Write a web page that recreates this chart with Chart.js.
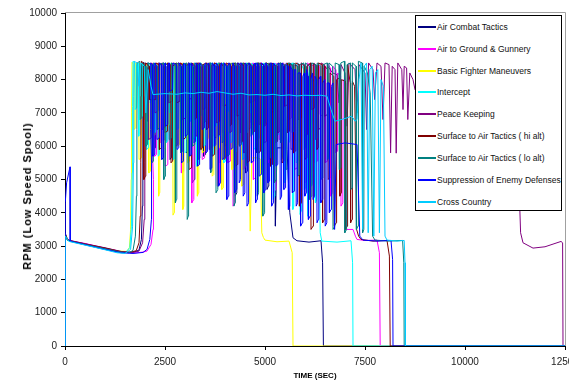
<!DOCTYPE html>
<html><head><meta charset="utf-8">
<script src="https://cdn.jsdelivr.net/npm/chart.js@4.4.0/dist/chart.umd.min.js"></script>
<style>
html,body{margin:0;padding:0;background:#fff;overflow:hidden;}
#wrap{position:relative;width:569px;height:381px;}
#legend{position:absolute;left:415px;top:15px;width:145px;height:194px;border:1px solid #000;background:#fff;font-family:'Liberation Sans',Arial,sans-serif;font-size:8.5px;color:#111;}
.item{position:absolute;left:0;width:145px;height:12px;}
.item .sw{position:absolute;left:2px;top:5px;width:18px;height:2px;}
.item .tx{position:absolute;left:21px;top:0;line-height:12px;white-space:nowrap;}
#ytitle{position:absolute;left:27px;top:196px;transform:translate(-50%,-50%) rotate(-90deg);white-space:nowrap;font-family:'Liberation Sans',Arial,sans-serif;font-weight:bold;font-size:11px;letter-spacing:1px;color:#000;}
</style></head><body>
<div id="wrap"><canvas id="c" width="569" height="381"></canvas><div id="legend"></div><div id="ytitle">RPM (Low Speed Spool)</div></div>
<script>
const seriesNames = ['Air Combat Tactics','Air to Ground & Gunnery','Basic Fighter Maneuvers','Intercept','Peace Keeping','Surface to Air Tactics ( hi alt)','Surface to Air Tactics ( lo alt)','Suppression of Enemy Defenses','Cross Country'];
const seriesColors = ['#000080','#FF00FF','#FFFF00','#00FFFF','#800080','#800000','#008080','#0000FF','#00CCFF'];
const xTicks = [0,2500,5000,7500,10000,12500];
const yTicks = [0,1000,2000,3000,4000,5000,6000,7000,8000,9000,10000];

// [time (s), RPM]
const airCombatTactics = [[0,0],[8,3380],[60,3200],[130,3150],[500,3070],[1000,2920],[1400,2820],[1700,2810],[1850,2880],[1910,3200],[1935,4200],[1945,6000],[1948,7600],[1955,8520],
[2000,8480],[2010,6800],[2055,6750],[2065,8500],[2190,8450],[2200,5900],[2255,5950],[2265,8500],[2345,8400],[2355,7200],[2370,7250],[2380,8450],
[2470,8500],[2480,6200],[2535,6150],[2545,8400],[2615,8450],[2625,5600],[2650,5650],[2660,8500],[2760,8300],[2770,6500],[2825,6550],[2835,8500],
[2905,8450],[2915,7600],[2960,7650],[2970,8500],[3035,8400],[3045,5800],[3075,5850],[3085,8500],[3170,8450],[3180,4900],[3235,5000],[3245,8450],
[3325,8500],[3335,6100],[3360,6050],[3370,8400],[3455,8450],[3465,5700],[3515,5750],[3525,8500],[3590,8300],[3600,7000],[3620,7050],[3630,8500],
[3710,8450],[3720,6300],[3785,6250],[3795,8500],[3860,8400],[3870,5500],[3895,5550],[3905,8500],[3985,8450],[3995,6000],[4045,6050],[4055,8350],
[4120,8500],[4130,7400],[4165,7350],[4175,8500],[4240,8400],[4250,4500],[4295,4600],[4305,8500],[4385,8450],[4395,6400],[4415,6450],[4425,8500],
[4505,8300],[4515,5200],[4565,5250],[4575,8500],[4640,8450],[4650,6700],[4695,6650],[4705,8500],[4775,8400],[4785,5800],[4815,5850],[4825,8500],
[4905,8450],[4915,6200],[4955,6250],[4965,8450],[5040,8500],[5050,4700],[5085,4800],[5095,8500],[5160,8400],[5170,7100],[5195,7150],[5205,8300],
[5250,8200],[5260,3600],[5300,5950],[5450,5950],[5480,8200],[5550,5900],[5620,4000],[5700,3250],[5800,3160],[6100,3120],[6400,3160],[6440,2500],[6460,0],[12500,0]];

const airToGround = [[0,0],[8,3360],[60,3190],[130,3160],[500,3080],[1000,2940],[1400,2840],[1700,2790],[1950,2820],[2050,2850],[2150,3050],[2200,3500],[2212,4300],[2210,5000],[2190,5700],[2170,6500],[2168,7500],[2172,8500],
[2230,8450],[2240,5700],[2290,5750],[2300,8500],[2375,8400],[2385,6100],[2420,6150],[2430,8500],[2500,8450],[2510,5400],[2570,5450],[2580,8500],
[2650,8350],[2660,7300],[2685,7250],[2695,8500],[2770,8450],[2780,6600],[2825,6650],[2835,8400],[2900,8500],[2910,5200],[2965,5250],[2975,8450],
[3030,8400],[3040,6200],[3070,6250],[3080,8500],[3160,8450],[3170,4300],[3220,4400],[3230,8500],[3290,8400],[3300,6000],[3340,6050],[3350,8500],
[3420,8450],[3430,5600],[3490,5650],[3500,8350],[3545,8500],[3555,6700],[3585,6650],[3595,8500],[3665,8400],[3675,5900],[3725,5950],[3735,8500],
[3800,8450],[3810,4800],[3855,4850],[3865,8500],[3935,8400],[3945,6400],[3980,6450],[3990,8500],[4060,8450],[4070,5500],[4125,5550],[4135,8400],
[4190,8500],[4200,4200],[4240,4300],[4250,8500],[4310,8450],[4320,6100],[4370,6150],[4380,8500],[4445,8400],[4455,5300],[4485,5350],[4495,8500],
[4575,8450],[4585,6500],[4645,6550],[4655,8450],[4700,8500],[4710,5000],[4750,5050],[4760,8500],[4830,8400],[4840,5800],[4885,5850],[4895,8500],
[4960,8450],[4970,6900],[5000,6950],[5010,8500],[5085,8400],[5095,5500],[5150,5550],[5160,8500],[5210,8450],[5220,4600],[5260,4700],[5270,8500],
[5345,8400],[5355,6200],[5405,6250],[5415,8450],[5470,8500],[5480,5700],[5515,5750],[5525,8500],[5600,8450],[5610,6800],[5655,6850],[5665,8500],
[5730,8400],[5740,5300],[5800,5350],[5810,8500],[5855,8450],[5865,6000],[5895,6050],[5905,8500],[5985,8400],[5995,4900],[6045,4950],[6055,8500],
[6110,8450],[6120,6600],[6160,6650],[6170,8400],[6240,8500],[6250,5500],[6305,5550],[6315,8450],[6370,8400],[6380,6950],[6440,6900],[6450,8300],
[6500,8400],[6510,5500],[6550,5550],[6560,8500],[6630,8350],[6640,4500],[6690,4600],[6700,8400],[6760,8300],[6770,5800],[6805,5850],[6815,8200],
[6890,8100],[6900,4200],[6945,4300],[6955,8000],[7020,7900],[7030,3500],[7200,3500],[7260,3300],[7300,3200],[7500,3170],[7800,3180],[7860,2800],[7880,0],[12500,0]];

const basicFighter = [[0,0],[8,3350],[60,3180],[130,3150],[500,3060],[1000,2930],[1350,2850],[1550,2840],[1610,2960],[1640,3500],[1655,5000],[1665,7000],[1675,8520],
[1720,8450],[1730,6500],[1760,6550],[1770,8500],[1840,8400],[1850,5600],[1900,5650],[1910,8500],[1965,8450],[1975,6800],[2000,6850],[2010,8500],
[2085,8350],[2095,5200],[2140,5250],[2150,8500],[2200,8450],[2210,6300],[2245,6350],[2255,8400],[2330,8500],[2340,4500],[2360,4600],[2370,8500],
[2450,8400],[2460,5900],[2500,5950],[2510,8500],[2570,8450],[2580,6600],[2610,6650],[2620,8500],[2690,8400],[2700,3930],[2725,4000],[2735,8500],
[2810,8450],[2820,6000],[2865,6050],[2875,8400],[2935,8500],[2945,4100],[2970,4200],[2980,8500],[3055,8350],[3065,5500],[3115,5550],[3125,8500],
[3180,8450],[3190,6600],[3220,6650],[3230,8500],[3300,8400],[3310,4500],[3335,4600],[3345,8500],[3425,8450],[3435,5800],[3480,5850],[3490,8400],
[3545,8500],[3555,6200],[3590,6250],[3600,8500],[3670,8400],[3680,5100],[3720,5150],[3730,8500],[3790,8450],[3800,5900],[3850,5950],[3860,8500],
[3910,8400],[3920,4700],[3950,4750],[3960,8500],[4035,8450],[4045,6400],[4080,6450],[4090,8400],[4160,8500],[4170,5300],[4215,5350],[4225,8500],
[4285,8450],[4295,6000],[4325,6050],[4335,8500],[4410,8400],[4420,4800],[4460,4850],[4470,8500],[4540,8350],[4560,8300],[4630,3450],[4670,5650],
[4800,5650],[4880,5620],[4920,3400],[4960,3260],[5000,3180],[5300,3130],[5600,3150],[5680,2800],[5700,0],[12500,0]];

const intercept = [[0,0],[8,3340],[60,3170],[130,3140],[500,3040],[1000,2900],[1300,2820],[1500,2800],[1620,2950],[1660,3600],[1680,5200],[1690,7200],[1700,8550],
[1745,8500],[1755,7100],[1780,7150],[1790,8450],[1830,8500],[1840,6300],[1870,6350],[1880,8400],[1935,8450],[1945,6900],[1965,6950],[1975,8500],
[2030,8400],[2040,5900],[2075,5950],[2085,8500],[2120,8450],[2130,7300],[2150,7350],[2160,8350],[2230,8500],[2240,6400],[2270,6450],[2280,8450],
[2320,8400],[2330,5700],[2365,5750],[2375,8500],[2415,8450],[2425,6800],[2445,6850],[2455,8500],[2520,8400],[2530,6100],[2560,6150],[2570,8450],
[2610,8500],[2620,7000],[2645,7050],[2655,8400],[2700,8450],[2710,5600],[2745,5650],[2755,8500],[2805,8400],[2815,6500],[2840,6550],[2850,8500],
[2895,8450],[2905,7200],[2925,7250],[2935,8400],[2990,8500],[3000,5800],[3035,5850],[3045,8450],[3095,8400],[3105,6700],[3130,6750],[3140,8500],
[3185,8450],[3195,6200],[3225,6250],[3235,8500],[3280,8400],[3290,5400],[3325,5450],[3335,8450],[3385,8500],[3395,6900],[3415,6950],[3425,8400],
[3470,8450],[3480,6000],[3510,6050],[3520,8500],[3565,8400],[3575,7100],[3600,7150],[3610,8450],[3670,8500],[3680,5700],[3715,5750],[3725,8400],
[3760,8450],[3770,6600],[3795,6650],[3805,8500],[3855,8400],[3865,6300],[3890,6350],[3900,8450],[3960,8500],[3970,5500],[4005,5550],[4015,8400],
[4045,8450],[4055,7000],[4075,7050],[4085,8500],[4140,8400],[4150,6100],[4180,6150],[4190,8450],[4245,8500],[4255,5800],[4285,5850],[4295,8400],
[4335,8450],[4345,6800],[4365,6850],[4375,8500],[4430,8400],[4440,5600],[4475,5650],[4485,8450],[4535,8500],[4545,6400],[4570,6450],[4580,8400],
[4620,8450],[4630,7000],[4650,7050],[4660,8500],[4715,8400],[4725,5900],[4755,5950],[4765,8450],[4820,8500],[4830,6200],[4855,6250],[4865,8400],
[4910,8450],[4920,5300],[4955,5350],[4965,8500],[5005,8400],[5015,6700],[5035,6750],[5045,8450],[5110,8500],[5120,5800],[5150,5850],[5160,8400],
[5195,8450],[5205,4400],[5235,4500],[5245,8500],[5290,8400],[5300,6300],[5325,6350],[5335,8450],[5395,8500],[5405,5600],[5440,5650],[5450,8400],
[5485,8450],[5495,4900],[5520,5000],[5530,8500],[5580,8400],[5590,6100],[5620,6150],[5630,8450],[5685,8500],[5695,4100],[5720,4200],[5730,8400],
[5770,8450],[5780,5500],[5810,5550],[5820,8500],[5865,8400],[5875,3950],[5900,4050],[5910,8450],[5970,8300],[5980,4700],[6010,4750],[6020,8400],
[6055,8300],[6065,3900],[6090,4000],[6100,8200],[6150,8300],[6160,4800],[6190,4850],[6200,8000],[6250,7900],[6260,4300],[6290,4400],[6300,7800],
[6330,7800],[6380,3400],[6420,3150],[6800,3120],[7150,3160],[7190,2500],[7200,0],[12500,0]];

const peaceKeeping = [[0,0],[8,3370],[60,3200],[130,3170],[500,3070],[1000,2950],[1400,2840],[1700,2810],[1850,2850],[1940,3100],[1980,3800],[1995,5500],[2003,7500],[2010,8500],
[2080,8450],[2090,6200],[2150,6250],[2160,8500],[2240,8400],[2250,7000],[2320,7050],[2330,8500],[2420,8450],[2430,6500],[2480,6550],[2490,8400],
[2585,8500],[2595,7300],[2675,7350],[2685,8450],[2760,8400],[2770,6000],[2820,6050],[2830,8500],[2930,8450],[2940,6800],[3010,6850],[3020,8400],
[3090,8500],[3100,7400],[3180,7450],[3190,8450],[3270,8400],[3280,6300],[3330,6350],[3340,8500],[3440,8450],[3450,7100],[3520,7150],[3530,8400],
[3600,8500],[3610,5900],[3660,5950],[3670,8450],[3780,8400],[3790,6700],[3860,6750],[3870,8500],[3950,8450],[3960,7200],[4040,7250],[4050,8400],
[4110,8500],[4120,6400],[4170,6450],[4180,8450],[4290,8400],[4300,6900],[4370,6950],[4380,8500],[4460,8450],[4470,5800],[4520,5850],[4530,8400],
[4620,8500],[4630,7300],[4710,7350],[4720,8450],[4800,8400],[4810,6600],[4860,6650],[4870,8500],[4970,8450],[4980,6100],[5040,6150],[5050,8400],
[5130,8500],[5140,7000],[5220,7050],[5230,8450],[5310,8400],[5320,6400],[5370,6450],[5380,8500],[5480,8450],[5490,7200],[5570,7250],[5580,8400],
[5640,8500],[5650,5900],[5700,5950],[5710,8450],[5820,8400],[5830,6800],[5900,6850],[5910,8500],[5990,8450],[6000,6300],[6050,6350],[6060,8400],
[6150,8500],[6160,7100],[6240,7150],[6250,8450],[6330,8400],[6340,6500],[6390,6550],[6400,8500],[6480,8450],[6490,6900],[6560,6950],[6570,8400],
[6690,8200],[6800,8150],[6850,7300],[6900,8450],[7000,8200],[7050,6600],[7100,8500],[7250,8300],[7300,7000],[7350,8450],
[7500,8200],[7540,6500],[7590,8500],[7700,8300],[7740,7400],[7800,8500],[7900,8400],[7950,6800],[8000,8500],[8100,8450],[8140,5800],[8180,8400],
[8250,8300],[8280,5790],[8320,8500],[8420,8300],[8450,7100],[8480,8400],[8540,8350],[8570,6800],[8620,8200],[8700,8000],[8750,7700],
[9000,8200],[9500,7600],[10000,8100],[10500,7800],[11000,8000],[11250,7500],[11320,6000],[11360,4500],[11390,3400],[11450,3100],[11700,2940],[12000,2980],[12300,3100],[12400,3140],[12440,3100],[12450,0],[12500,0]];

const surfaceHi = [[0,0],[8,3360],[60,3190],[130,3160],[500,3060],[1000,2940],[1400,2830],[1600,2810],[1780,2860],[1850,3100],[1880,3900],[1895,5500],[1900,7500],[1910,8550],
[1960,8500],[1970,5000],[2010,5100],[2020,8500],[2100,8400],[2110,7400],[2260,7400],[2270,8500],[2350,8450],[2360,5900],[2400,5950],[2410,8500],
[2490,8400],[2500,6400],[2555,6450],[2565,8500],[2640,8450],[2650,5500],[2680,5550],[2690,8400],[2780,8500],[2790,7300],[2870,7350],[2880,8500],
[2950,8450],[2960,6200],[3005,6250],[3015,8500],[3090,8400],[3100,5300],[3155,5350],[3165,8500],[3240,8450],[3250,6800],[3280,6850],[3290,8500],
[3385,8400],[3395,5900],[3440,5950],[3450,8450],[3530,8500],[3540,6500],[3580,6550],[3590,8500],[3670,8400],[3680,5700],[3730,5750],[3740,8500],
[3820,8450],[3830,6300],[3860,6350],[3870,8500],[3965,8400],[3975,5600],[4020,5650],[4030,8500],[4110,8450],[4120,6600],[4155,6650],[4165,8400],
[4250,8500],[4260,5400],[4310,5450],[4320,8500],[4400,8400],[4410,6100],[4440,6150],[4450,8500],[4545,8450],[4555,5500],[4600,5550],[4610,8500],
[4690,8400],[4700,6400],[4735,6450],[4745,8450],[4830,8500],[4840,5800],[4890,5850],[4900,8500],[4980,8400],[4990,6600],[5020,6650],[5030,8500],
[5125,8450],[5135,5400],[5180,5450],[5190,8500],[5270,8400],[5280,6100],[5315,6150],[5325,8500],[5410,8450],[5420,5500],[5470,5550],[5480,8400],
[5560,8500],[5570,6400],[5600,6450],[5610,8500],[5705,8400],[5715,5800],[5760,5850],[5770,8500],[5850,8450],[5860,4200],[5905,4300],[5915,8500],
[5990,8400],[6000,5600],[6035,5650],[6045,8400],[6140,8500],[6150,3500],[6200,3600],[6210,8500],[6285,8400],[6295,5900],[6325,5950],[6335,8500],
[6430,8450],[6440,3700],[6485,3800],[6495,8400],[6570,8300],[6580,5000],[6615,5050],[6625,8200],[6720,8100],[6730,3600],[6780,3700],[6790,8000],
[6860,8050],[6870,4500],[6900,4600],[6910,8000],[7000,7950],[7010,3500],[7055,3600],[7065,8450],[7130,7900],[7140,3700],[7175,3800],[7185,7950],
[7240,7800],[7290,3500],[7340,3300],[7400,3200],[7700,3150],[8050,3170],[8110,2700],[8130,0],[12500,0]];

const surfaceLo = [[0,0],[8,3350],[60,3180],[130,3150],[500,3050],[1000,2920],[1400,2820],[1600,2800],[1700,2870],[1760,3300],[1785,4500],[1797,6500],[1805,8500],
[1870,8550],[1880,6800],[1910,6850],[1920,8500],[2010,8400],[2020,6000],[2065,6050],[2075,8500],[2165,8450],[2175,5500],[2200,5550],[2210,8500],
[2300,8400],[2310,6500],[2350,6550],[2360,8450],[2460,8500],[2470,5000],[2500,5100],[2510,8500],[2595,8400],[2605,6200],[2650,6250],[2660,8500],
[2750,8450],[2760,4300],[2785,4400],[2795,8500],[2885,8400],[2895,5800],[2935,5850],[2945,8450],[3045,8500],[3055,3800],[3080,3900],[3090,8500],
[3180,8400],[3190,6000],[3235,6050],[3245,8500],[3335,8450],[3345,5600],[3370,5650],[3380,8500],[3470,8400],[3480,6700],[3520,6750],[3530,8450],
[3630,8500],[3640,5200],[3670,5250],[3680,8500],[3765,8400],[3775,4600],[3820,4700],[3830,8500],[3920,8450],[3930,6100],[3955,6150],[3965,8500],
[4055,8400],[4065,5700],[4105,5750],[4115,8450],[4215,8500],[4225,4200],[4250,4300],[4260,8500],[4350,8400],[4360,6000],[4405,6050],[4415,8500],
[4505,8450],[4515,5400],[4540,5450],[4550,8500],[4640,8400],[4650,6300],[4690,6350],[4700,8450],[4800,8500],[4810,4500],[4840,4600],[4850,8500],
[4935,8400],[4945,3900],[4990,4000],[5000,8500],[5090,8450],[5100,5600],[5125,5650],[5135,8500],[5225,8400],[5235,4900],[5275,5000],[5285,8450],
[5385,8500],[5395,6100],[5420,6150],[5430,8500],[5520,8400],[5530,5300],[5575,5350],[5585,8500],[5675,8450],[5685,6400],[5710,6450],[5720,8500],
[5810,8400],[5820,5100],[5860,5150],[5870,8450],[5970,8500],[5980,5900],[6005,5950],[6015,8500],[6105,8400],[6115,4400],[6160,4500],[6170,8500],
[6260,8450],[6270,6200],[6295,6250],[6305,8500],[6395,8400],[6405,5000],[6445,5050],[6455,8450],[6555,8500],[6565,5600],[6590,5650],[6600,8500],
[6690,8400],[6700,3500],[6745,3600],[6755,8500],[6850,8450],[6860,5300],[6885,5350],[6895,8500],[6985,8550],[6995,3400],[7040,3500],[7050,8450],
[7140,8500],[7150,4700],[7175,4750],[7185,8500],[7275,8400],[7285,3500],[7325,3600],[7335,8550],[7430,8500],[7440,3400],[7470,3500],[7480,8400],
[7560,8200],[7630,7600],[7690,3300],[7750,3180],[8100,3150],[8440,3170],[8470,2500],[8480,0],[12500,0]];

const suppression = [[0,0],[3,3300],[10,4300],[40,4900],[125,5380],[130,3150],[500,3040],[1000,2900],[1400,2800],[1700,2780],[1950,2810],[2050,2900],[2120,3200],[2160,3800],[2168,4600],[2160,5500],[2140,6500],[2138,7600],[2145,8500],
[2185,8450],[2195,5700],[2235,5750],[2245,8500],[2290,8400],[2300,6200],[2350,6250],[2360,8500],[2410,8450],[2420,5600],[2450,5650],[2460,8400],
[2505,8500],[2515,6600],[2560,6650],[2570,8450],[2600,8500],[2610,7650],[2690,7700],[2700,8500],[2790,8450],[2800,5900],[2845,5950],[2855,8500],
[2905,8400],[2915,5500],[2950,5550],[2960,8500],[3000,8450],[3010,6300],[3060,6350],[3070,8400],[3110,8500],[3120,5700],[3150,5750],[3160,8500],
[3215,8400],[3225,6100],[3265,6150],[3275,8500],[3305,8450],[3315,5400],[3355,5450],[3365,8500],[3420,8400],[3430,6500],[3475,6550],[3485,8450],
[3520,8500],[3530,5800],[3565,5850],[3575,8500],[3615,8400],[3625,5300],[3670,5350],[3680,8500],[3725,8450],[3735,6000],[3770,6050],[3780,8500],
[3830,8400],[3840,4800],[3880,4900],[3890,8450],[3920,8500],[3930,5600],[3975,5650],[3985,8500],[4035,8400],[4045,4400],[4085,4500],[4095,8500],
[4140,8450],[4150,5900],[4185,5950],[4195,8500],[4230,8400],[4240,4600],[4285,4700],[4295,8450],[4345,8500],[4355,4900],[4390,5000],[4400,8500],
[4445,8400],[4455,4500],[4495,4600],[4505,8500],[4540,8450],[4550,4200],[4590,4300],[4600,8500],[4650,8400],[4660,5500],[4705,5550],[4715,8450],
[4755,8500],[4765,4300],[4800,4400],[4810,8500],[4845,8400],[4855,5100],[4900,5150],[4910,8500],[4960,8450],[4970,4600],[5010,4700],[5020,8500],
[5060,8400],[5070,4900],[5115,4950],[5125,8450],[5155,8500],[5165,4200],[5205,4300],[5215,8500],[5265,8400],[5275,5400],[5320,5450],[5330,8500],
[5370,8450],[5380,4400],[5415,4500],[5425,8500],[5460,8400],[5470,4700],[5515,4750],[5525,8450],[5575,8400],[5585,4100],[5620,4200],[5630,8400],
[5675,8300],[5685,4600],[5725,4650],[5735,8300],[5770,8300],[5780,4200],[5815,4300],[5825,8200],[5880,8200],[5890,3600],[5935,3700],[5945,8100],
[5985,8200],[5995,4500],[6030,4600],[6040,8300],[6075,8100],[6085,3800],[6125,3900],[6135,8000],[6190,8200],[6200,4400],[6240,4500],[6250,8100],
[6290,8000],[6300,3700],[6335,3800],[6345,8000],[6385,8100],[6395,4300],[6435,4400],[6445,7900],[6495,8000],[6505,3600],[6545,3700],[6555,7900],
[6600,7900],[6610,4000],[6650,4100],[6660,7800],[6700,7900],[6740,3500],[6780,6050],[7000,6100],[7300,6050],[7370,3300],[7450,3180],[7800,3150],
[8150,3170],[8190,2600],[8200,0],[12500,0]];

const crossCountry = [[0,0],[5,3300],[100,3140],[500,3030],[1000,2890],[1300,2800],[1500,2780],[1640,2900],[1690,3600],[1710,5500],[1720,7500],[1730,8550],
[1800,8500],[1850,7800],[1900,8500],[1980,8400],[2020,7000],[2080,8300],[2150,7800],[2200,7550],[2500,7580],[2800,7560],[3000,7600],[3200,7580],[3400,7620],[3600,7590],[3800,7640],[4000,7600],[4200,7560],[4400,7590],[4600,7540],[4800,7550],[5000,7530],[5200,7560],[5400,7520],[5600,7540],[5800,7510],[6000,7530],[6200,7520],[6400,7530],[6550,7500],[6650,7100],[6750,6750],[6900,6800],[7050,6850],[7150,6900],[7200,6850],[7250,6750],[7300,6800],[7350,8000],[7400,8500],[7440,3500],[7480,8400],[7540,8500],[7580,3400],[7620,8300],[7680,8400],[7720,3300],[7760,8200],[7820,8300],[7860,3400],[7900,8000],[7960,7800],[8000,3300],[8050,3180],[8300,3150],[8480,3170],[8500,2500],[8510,0],[12500,0]];

const seriesData = [airCombatTactics, airToGround, basicFighter, intercept, peaceKeeping, surfaceHi, surfaceLo, suppression, crossCountry];

// HTML legend
const legend = document.getElementById('legend');
seriesNames.forEach((name, i) => {
  const d = document.createElement('div');
  d.className = 'item';
  d.style.top = Math.round(4.7 + 21.9 * i) + 'px';
  const sw = document.createElement('div');
  sw.className = 'sw';
  sw.style.background = seriesColors[i];
  const tx = document.createElement('span');
  tx.className = 'tx';
  tx.textContent = name;
  d.appendChild(sw);
  d.appendChild(tx);
  legend.appendChild(d);
});

const frame = {
  id: 'frame',
  afterDatasetsDraw(chart) {
    const {ctx, chartArea: {left, right, top, bottom}} = chart;
    ctx.save();
    ctx.strokeStyle = '#a0a0a0';
    ctx.lineWidth = 1;
    ctx.beginPath();
    ctx.moveTo(left, top - 0.5);
    ctx.lineTo(right + 0.5, top - 0.5);
    ctx.lineTo(right + 0.5, bottom);
    ctx.stroke();
    ctx.restore();
  }
};

Chart.defaults.font.family = "'Liberation Sans', Arial, sans-serif";
const n = seriesData.length;
new Chart(document.getElementById('c'), {
  type: 'scatter',
  data: {
    datasets: seriesData.map((arr, i) => ({
      label: seriesNames[i],
      data: arr.map(p => ({x: p[0], y: p[1]})),
      showLine: true,
      borderColor: seriesColors[i],
      backgroundColor: seriesColors[i],
      borderWidth: 1,
      pointRadius: 0,
      tension: 0,
      order: n - i
    }))
  },
  options: {
    responsive: false,
    animation: false,
    events: [],
    devicePixelRatio: 1,
    layout: {padding: {top: 13, right: 4, left: 0, bottom: 0}},
    plugins: {legend: {display: false}, tooltip: {enabled: false}},
    scales: {
      x: {
        type: 'linear', min: 0, max: 12500,
        afterBuildTicks: s => { s.ticks = xTicks.map(v => ({value: v})); },
        afterFit: s => { s.height = 35; s.paddingLeft = 0; s.paddingRight = 0; },
        ticks: {font: {size: 10}, color: '#222', padding: 6, maxRotation: 0, autoSkip: false, callback: v => String(v)},
        grid: {drawOnChartArea: false, drawTicks: true, tickLength: 4, color: '#000'},
        border: {display: true, color: '#000', width: 1},
        title: {display: true, text: 'TIME (SEC)', color: '#000', font: {size: 8, weight: 'bold'}, padding: {top: 0, bottom: 0}}
      },
      y: {
        type: 'linear', min: 0, max: 10000,
        afterBuildTicks: s => { s.ticks = yTicks.map(v => ({value: v})); },
        afterFit: s => { s.width = 65; s.paddingTop = 0; s.paddingBottom = 0; },
        ticks: {font: {size: 10}, color: '#222', padding: 4, autoSkip: false, callback: v => String(v)},
        grid: {drawOnChartArea: false, drawTicks: true, tickLength: 4, color: '#000'},
        border: {display: true, color: '#000', width: 1},
        title: {display: false}
      }
    }
  },
  plugins: [frame]
});
</script>
</body></html>
